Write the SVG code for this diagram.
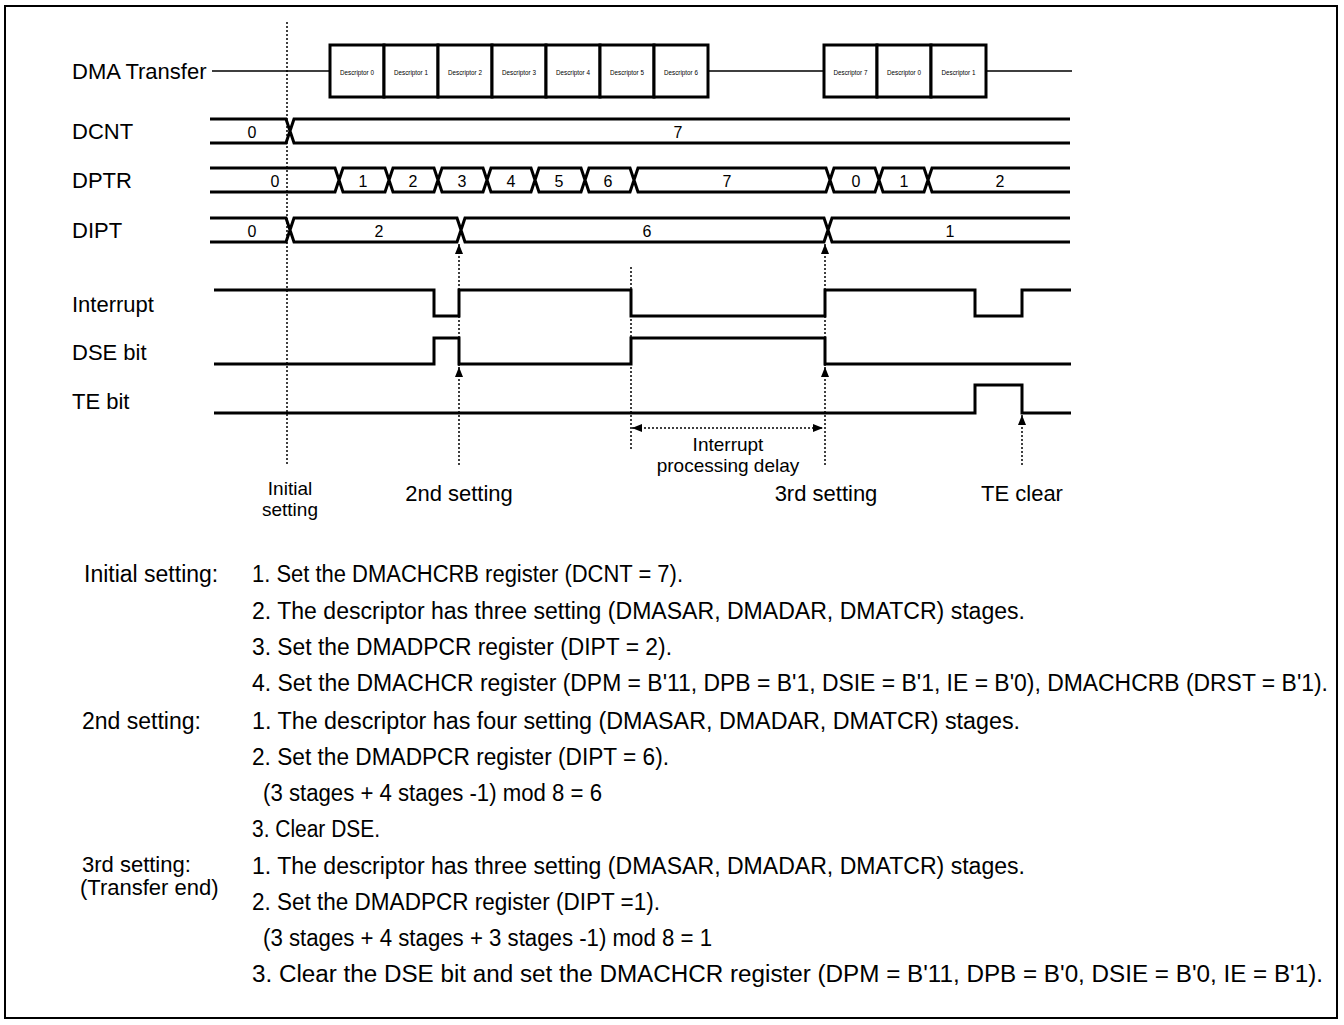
<svg xmlns="http://www.w3.org/2000/svg" width="1344" height="1025" viewBox="0 0 1344 1025">
<style>
.lbl{font-family:"Liberation Sans",Arial,Helvetica,sans-serif;font-size:22px;fill:#000}
.sm{font-size:19px}
.ctr{text-anchor:middle}
.val{font-family:"Liberation Sans",Arial,sans-serif;font-size:16px;fill:#000;text-anchor:middle}
.desc{font-family:"Liberation Sans",Arial,sans-serif;font-size:6.3px;fill:#000;text-anchor:middle}
.note{font-family:"Liberation Sans",Arial,sans-serif;font-size:23px;fill:#000}
.bus{fill:none;stroke:#000;stroke-width:3}
.sig{fill:none;stroke:#000;stroke-width:3}
.box{fill:#fff;stroke:#000;stroke-width:3}
.thin{stroke:#000;stroke-width:1.5;fill:none}
.dot{stroke:#000;stroke-width:1.5;stroke-dasharray:2 2;fill:none}
</style>
<defs>
<marker id="ah" viewBox="0 0 10 8" refX="10" refY="4" markerWidth="10" markerHeight="8" markerUnits="userSpaceOnUse" orient="auto-start-reverse"><path d="M0,0 L10,4 L0,8 Z" fill="#000"/></marker>
</defs>
<rect x="5" y="6" width="1332" height="1012" fill="#fff" stroke="#000" stroke-width="2"/>

<g id="dma">
<text class="lbl" x="72" y="79">DMA Transfer</text>
<path class="thin" d="M212 71 H330 M708 71 H824 M986 71 H1072"/>
<rect class="box" x="330" y="45" width="54" height="52"/>
<rect class="box" x="384" y="45" width="54" height="52"/>
<rect class="box" x="438" y="45" width="54" height="52"/>
<rect class="box" x="492" y="45" width="54" height="52"/>
<rect class="box" x="546" y="45" width="54" height="52"/>
<rect class="box" x="600" y="45" width="54" height="52"/>
<rect class="box" x="654" y="45" width="54" height="52"/>
<rect class="box" x="824" y="45" width="53" height="52"/>
<rect class="box" x="877" y="45" width="54" height="52"/>
<rect class="box" x="931" y="45" width="55" height="52"/>
<text class="desc" x="357" y="75">Descriptor 0</text>
<text class="desc" x="411" y="75">Descriptor 1</text>
<text class="desc" x="465" y="75">Descriptor 2</text>
<text class="desc" x="519" y="75">Descriptor 3</text>
<text class="desc" x="573" y="75">Descriptor 4</text>
<text class="desc" x="627" y="75">Descriptor 5</text>
<text class="desc" x="681" y="75">Descriptor 6</text>
<text class="desc" x="850.5" y="75">Descriptor 7</text>
<text class="desc" x="904" y="75">Descriptor 0</text>
<text class="desc" x="958.5" y="75">Descriptor 1</text>
</g>

<g id="dcnt">
<text class="lbl" x="72" y="139">DCNT</text>
<path class="bus" d="M210 119 H286 L290 131 L286 143 H210 M1070 119 H294 L290 131 L294 143 H1070"/>
<text class="val" x="252" y="138">0</text>
<text class="val" x="678" y="138">7</text>
</g>

<g id="dptr">
<text class="lbl" x="72" y="188">DPTR</text>
<path class="bus" d="M210 168 H335 L339 180 L335 192 H210
M343 168 H385 L389 180 L385 192 H343 L339 180 Z
M393 168 H434 L438 180 L434 192 H393 L389 180 Z
M442 168 H483 L487 180 L483 192 H442 L438 180 Z
M491 168 H531 L535 180 L531 192 H491 L487 180 Z
M539 168 H581 L585 180 L581 192 H539 L535 180 Z
M589 168 H630 L634 180 L630 192 H589 L585 180 Z
M638 168 H826 L830 180 L826 192 H638 L634 180 Z
M834 168 H875 L879 180 L875 192 H834 L830 180 Z
M883 168 H924 L928 180 L924 192 H883 L879 180 Z
M1070 168 H932 L928 180 L932 192 H1070"/>
<text class="val" x="275" y="187">0</text>
<text class="val" x="363" y="187">1</text>
<text class="val" x="413" y="187">2</text>
<text class="val" x="462" y="187">3</text>
<text class="val" x="511" y="187">4</text>
<text class="val" x="559" y="187">5</text>
<text class="val" x="608" y="187">6</text>
<text class="val" x="727" y="187">7</text>
<text class="val" x="856" y="187">0</text>
<text class="val" x="904" y="187">1</text>
<text class="val" x="1000" y="187">2</text>
</g>

<g id="dipt">
<text class="lbl" x="72" y="238">DIPT</text>
<path class="bus" d="M210 218 H286 L290 230 L286 242 H210
M294 218 H457 L461 230 L457 242 H294 L290 230 Z
M465 218 H824 L828 230 L824 242 H465 L461 230 Z
M1070 218 H832 L828 230 L832 242 H1070"/>
<text class="val" x="252" y="237">0</text>
<text class="val" x="379" y="237">2</text>
<text class="val" x="647" y="237">6</text>
<text class="val" x="950" y="237">1</text>
</g>

<g id="interrupt">
<text class="lbl" x="72" y="312">Interrupt</text>
<path class="sig" d="M214 290 H434 V316 H459 V290 H631 V316 H825 V290 H975 V316 H1022 V290 H1071"/>
</g>

<g id="dse">
<text class="lbl" x="72" y="360">DSE bit</text>
<path class="sig" d="M214 364 H434 V338 H459 V364 H631 V338 H825 V364 H1071"/>
</g>

<g id="te">
<text class="lbl" x="72" y="409">TE bit</text>
<path class="sig" d="M214 413 H975 V385 H1022 V413 H1071"/>
</g>

<g id="connectors">
<line class="dot" x1="287" y1="22" x2="287" y2="465"/>
<line class="dot" x1="459" y1="465" x2="459" y2="367" marker-end="url(#ah)"/>
<line class="dot" x1="459" y1="366" x2="459" y2="244" marker-end="url(#ah)"/>
<line class="dot" x1="825" y1="465" x2="825" y2="367" marker-end="url(#ah)"/>
<line class="dot" x1="825" y1="366" x2="825" y2="244" marker-end="url(#ah)"/>
<line class="dot" x1="631" y1="267" x2="631" y2="450"/>
<line class="dot" x1="632" y1="428" x2="823" y2="428" marker-start="url(#ah)" marker-end="url(#ah)"/>
<line class="dot" x1="1022" y1="465" x2="1022" y2="415" marker-end="url(#ah)"/>
</g>

<g id="timing-labels">
<text class="lbl sm ctr" x="728" y="451">Interrupt</text>
<text class="lbl sm ctr" x="728" y="472">processing delay</text>
<text class="lbl sm ctr" x="290" y="495">Initial</text>
<text class="lbl sm ctr" x="290" y="516">setting</text>
<text class="lbl ctr" x="459" y="501">2nd setting</text>
<text class="lbl ctr" x="826" y="501">3rd setting</text>
<text class="lbl ctr" x="1022" y="501">TE clear</text>
</g>

<g id="notes">
<text class="note" x="84" y="582">Initial setting:</text>
<text class="note" x="252" y="582" textLength="431" lengthAdjust="spacingAndGlyphs">1. Set the DMACHCRB register (DCNT = 7).</text>
<text class="note" x="252" y="619" textLength="773" lengthAdjust="spacingAndGlyphs">2. The descriptor has three setting (DMASAR, DMADAR, DMATCR) stages.</text>
<text class="note" x="252" y="655" textLength="420" lengthAdjust="spacingAndGlyphs">3. Set the DMADPCR register (DIPT = 2).</text>
<text class="note" x="252" y="691" textLength="1076" lengthAdjust="spacingAndGlyphs">4. Set the DMACHCR register (DPM = B'11, DPB = B'1, DSIE = B'1, IE = B'0), DMACHCRB (DRST = B'1).</text>
<text class="note" x="82" y="729">2nd setting:</text>
<text class="note" x="252" y="729" textLength="768" lengthAdjust="spacingAndGlyphs">1. The descriptor has four setting (DMASAR, DMADAR, DMATCR) stages.</text>
<text class="note" x="252" y="765" textLength="417" lengthAdjust="spacingAndGlyphs">2. Set the DMADPCR register (DIPT = 6).</text>
<text class="note" x="263" y="801" textLength="339" lengthAdjust="spacingAndGlyphs">(3 stages + 4 stages -1) mod 8 = 6</text>
<text class="note" x="252" y="837" textLength="128" lengthAdjust="spacingAndGlyphs">3. Clear DSE.</text>
<text class="note" x="82" y="872" style="font-size:22px">3rd setting:</text>
<text class="note" x="80" y="895" style="font-size:22px">(Transfer end)</text>
<text class="note" x="252" y="874" textLength="773" lengthAdjust="spacingAndGlyphs">1. The descriptor has three setting (DMASAR, DMADAR, DMATCR) stages.</text>
<text class="note" x="252" y="910" textLength="408" lengthAdjust="spacingAndGlyphs">2. Set the DMADPCR register (DIPT =1).</text>
<text class="note" x="263" y="946" textLength="449" lengthAdjust="spacingAndGlyphs">(3 stages + 4 stages + 3 stages -1) mod 8 = 1</text>
<text class="note" x="252" y="982" textLength="1071" lengthAdjust="spacingAndGlyphs">3. Clear the DSE bit and set the DMACHCR register (DPM = B'11, DPB = B'0, DSIE = B'0, IE = B'1).</text>
</g>
</svg>
